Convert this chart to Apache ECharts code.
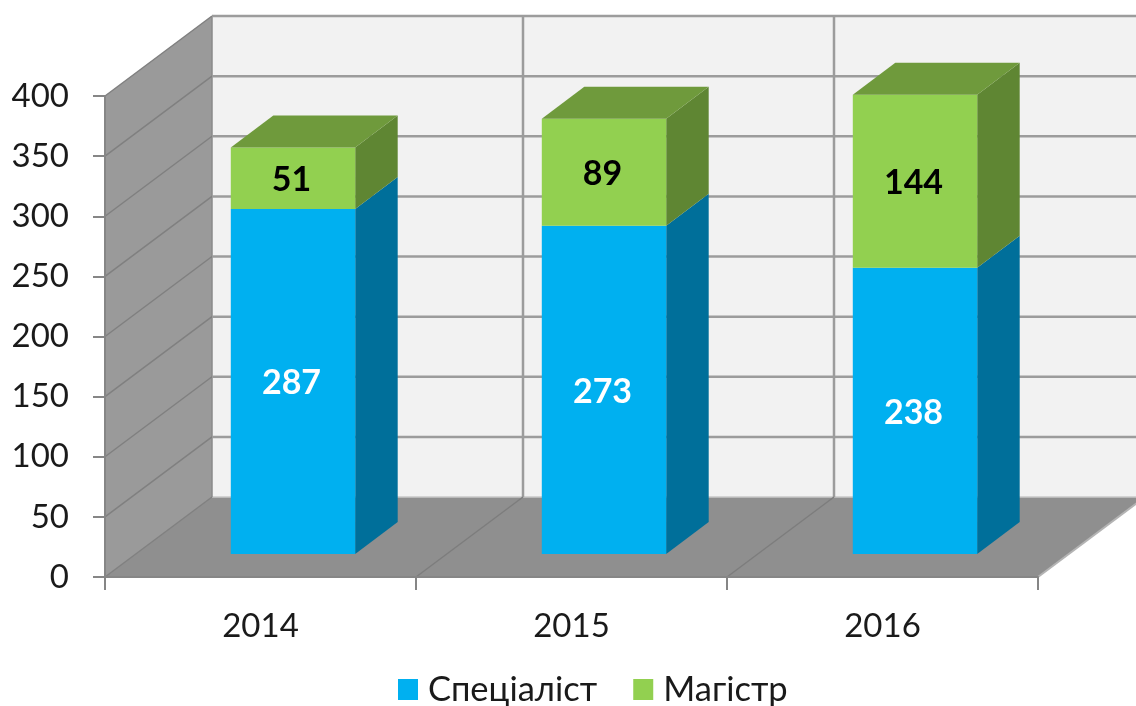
<!DOCTYPE html>
<html>
<head>
<meta charset="utf-8">
<style>
  html, body { margin: 0; padding: 0; background: #fff; }
  #chart { width: 1136px; height: 706px; }
</style>
<script src="https://cdn.jsdelivr.net/npm/echarts@6/dist/echarts.min.js"></script>
</head>
<body>
<div id="chart"></div>
<script>
// данные
const years = ['2014', '2015', '2016'];
const specialist = [287, 273, 238];
const master = [51, 89, 144];
const yTicks = [0, 50, 100, 150, 200, 250, 300, 350, 400];
const bandEdges = [1, 2];

// глубина псевдо-3D
const wallDx = 107, wallDy = -80;
const barOffX = 32.5, barOffY = -23;   // сдвиг столбика от передней плоскости
const barDx = 42.5, barDy = -32;
const barShare = 0.4;
const labelFont = 'Lato, "Open Sans", sans-serif';

const poly = (points, fill) => ({
  type: 'polygon', shape: { points }, style: { fill }
});
const line = (a, b, stroke, lineWidth) => ({
  type: 'line',
  shape: { x1: a[0], y1: a[1], x2: b[0], y2: b[1] },
  style: { stroke, lineWidth }
});

// стены и пол
const renderWalls = (params) => {
  const g = params.coordSys;
  const l = g.x, r = g.x + g.width, t = g.y, b = g.y + g.height;
  return {
    type: 'group',
    children: [
      poly([[l + wallDx, t + wallDy], [r + wallDx, t + wallDy], [r + wallDx, b + wallDy], [l + wallDx, b + wallDy]], '#f2f2f2'),
      poly([[l, t], [l + wallDx, t + wallDy], [l + wallDx, b + wallDy], [l, b]], '#9a9a9a'),
      poly([[l, b], [l + wallDx, b + wallDy], [r + wallDx, b + wallDy], [r, b]], '#8f8f8f'),
      line([r, b], [r + wallDx, b + wallDy], '#b4b4b4', 2),
      line([l + wallDx, b + wallDy], [r + wallDx, b + wallDy], '#c8c8c8', 1.5),
      line([l + wallDx, t + wallDy], [l + wallDx, b + wallDy], '#8a8a8a', 1.5),
      line([l, b], [l + wallDx, b + wallDy], '#808080', 1.5)
    ]
  };
};

// горизонтальные линии сетки
const renderGridLine = (params, api) => {
  const g = params.coordSys;
  const y = api.coord([0, api.value(0)])[1];
  const l = g.x, r = g.x + g.width;
  if (api.value(0) === 0) return { type: 'group', children: [] };
  return {
    type: 'group',
    children: [
      line([l, y], [l + wallDx, y + wallDy], '#808080', 1.5),
      line([l + wallDx, y + wallDy], [r + wallDx, y + wallDy], '#9c9c9c', 2.5)
    ]
  };
};

// вертикальные линии на границах категорий
const renderBandLine = (params, api) => {
  const g = params.coordSys;
  const i = api.value(0);
  const x = g.x + g.width * i / years.length;
  const t = g.y, b = g.y + g.height;
  return {
    type: 'group',
    children: [
      line([x + wallDx, t + wallDy], [x + wallDx, b + wallDy], '#9c9c9c', 2.5),
      line([x, b], [x + wallDx, b + wallDy], '#7d7d7d', 1.5)
    ]
  };
};

// столбик: передняя грань, бок, верх и подпись
const makeBar = (colors, showTop, labelColor) => (params, api) => {
  const start = api.coord([api.value(0), api.value(1)]);
  const end = api.coord([api.value(0), api.value(2)]);
  const w = api.size([1, 0])[0] * barShare;
  const x0 = start[0] - w / 2 + barOffX, x1 = x0 + w;
  const y0 = start[1] + barOffY, y1 = end[1] + barOffY;
  const children = [
    poly([[x1, y0], [x1 + barDx, y0 + barDy], [x1 + barDx, y1 + barDy], [x1, y1]], colors.side),
    poly([[x0, y0], [x1, y0], [x1, y1], [x0, y1]], colors.front)
  ];
  if (showTop) {
    children.push(poly([[x0, y1], [x1, y1], [x1 + barDx, y1 + barDy], [x0 + barDx, y1 + barDy]], colors.top));
  }
  children.push({
    type: 'text',
    style: {
      x: (x0 + x1) / 2 - 1.5,
      y: (y0 + y1) / 2 + 2,
      text: String(api.value(2) - api.value(1)),
      fill: labelColor,
      font: 'bold 34px ' + labelFont,
      align: 'center',
      verticalAlign: 'middle'
    }
  });
  return { type: 'group', children };
};

const blue = { front: '#00b0f0', side: '#006f9a' };
const green = { front: '#92d050', side: '#5f8633', top: '#6f9a3c' };

const chart = echarts.init(document.getElementById('chart'));
chart.setOption({
  animation: false,
  backgroundColor: '#fff',
  legend: {
    data: ['Спеціаліст', 'Магістр'],
    left: 393,
    top: 667,
    icon: 'rect',
    itemWidth: 20,
    itemHeight: 21,
    itemGap: 36,
    textStyle: { fontFamily: labelFont, fontSize: 34.5, color: '#1a1a1a', padding: [0, 0, 0, 5] }
  },
  grid: { left: 105, right: 98, top: 96, bottom: 129 },
  xAxis: {
    type: 'category',
    data: years,
    z: 5,
    axisLine: { lineStyle: { color: '#868686', width: 2 } },
    axisTick: { show: true, length: 13, lineStyle: { color: '#868686', width: 2 } },
    axisLabel: { fontFamily: labelFont, fontSize: 33, color: '#1a1a1a', margin: 33 }
  },
  yAxis: {
    type: 'value',
    min: 0,
    max: 400,
    interval: 50,
    z: 5,
    splitLine: { show: false },
    axisLine: { show: true, lineStyle: { color: '#868686', width: 2 } },
    axisTick: { show: true, length: 12, lineStyle: { color: '#868686', width: 2 } },
    axisLabel: { fontFamily: labelFont, fontSize: 33, color: '#1a1a1a', margin: 36, padding: [8, 0, 0, 0] }
  },
  series: [
    { type: 'custom', name: 'walls', z: 1, silent: true, data: [[0]], renderItem: renderWalls },
    { type: 'custom', name: 'gridY', z: 1, silent: true, data: yTicks.map(v => [v]), renderItem: renderGridLine, encode: { y: 0 } },
    { type: 'custom', name: 'gridX', z: 1, silent: true, data: bandEdges.map(v => [v]), renderItem: renderBandLine },
    {
      type: 'custom',
      name: 'Спеціаліст',
      z: 2,
      itemStyle: { color: blue.front },
      data: years.map((y, i) => [i, 0, specialist[i]]),
      encode: { x: 0, y: [1, 2] },
      renderItem: makeBar(blue, false, '#fff')
    },
    {
      type: 'custom',
      name: 'Магістр',
      z: 3,
      itemStyle: { color: green.front },
      data: years.map((y, i) => [i, specialist[i], specialist[i] + master[i]]),
      encode: { x: 0, y: [1, 2] },
      renderItem: makeBar(green, true, '#000')
    }
  ]
});
</script>
</body>
</html>
